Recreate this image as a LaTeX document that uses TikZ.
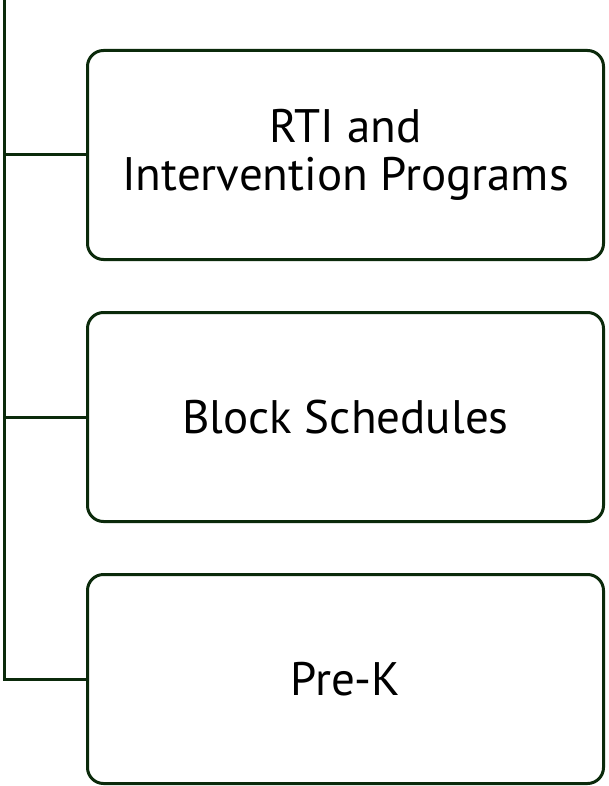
\documentclass[tikz,border=0pt]{standalone}
\usepackage{fontspec}
\setmainfont{PT Sans}
\usetikzlibrary{positioning}
\definecolor{branchgreen}{HTML}{0B2A0B}
\tikzset{
  itembox/.style={draw=branchgreen, line width=3pt, rounded corners=16pt,
    minimum width=516pt, minimum height=209pt, align=center,
    font=\fontsize{47}{48}\selectfont, text=black},
  branch/.style={draw=branchgreen, line width=3pt}
}
\begin{document}
\begin{tikzpicture}[x=1pt,y=1pt]
\useasboundingbox (0,0) rectangle (608,-786);

\node[itembox] (rti) at (345.5,-155) {RTI and\\Intervention Programs};
\node[itembox, below=50pt of rti] (block) {Block Schedules};
\node[itembox, below=50pt of block] (prek) {Pre-K};

\coordinate (top) at (4,0);
\draw[branch] (top) |- (prek.west);
\draw[branch] (top |- rti.west) -- (rti.west);
\draw[branch] (top |- block.west) -- (block.west);
\end{tikzpicture}
\end{document}
